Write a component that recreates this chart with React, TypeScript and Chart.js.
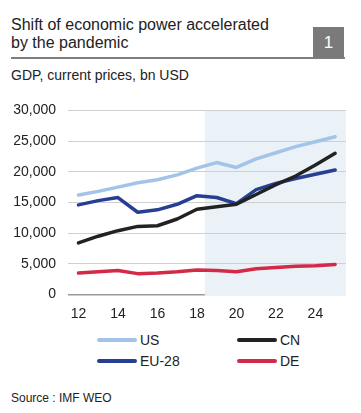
import React, { useEffect, useRef } from "react";
import { Chart, registerables } from "chart.js";

Chart.register(...registerables);

const years = [12, 13, 14, 15, 16, 17, 18, 19, 20, 21, 22, 23, 24, 25];
const xTicks = [12, 14, 16, 18, 20, 22, 24];
const yTicks = [0, 5000, 10000, 15000, 20000, 25000, 30000];
const usValues = [16200, 16800, 17500, 18200, 18700, 19500, 20600, 21500, 20700, 22100, 23100, 24100, 24900, 25700];
const cnValues = [8400, 9500, 10400, 11100, 11200, 12300, 13900, 14300, 14700, 16300, 17900, 19300, 21100, 23000];
const euValues = [14600, 15300, 15800, 13400, 13800, 14700, 16100, 15800, 14800, 17100, 18100, 18900, 19600, 20300];
const deValues = [3500, 3700, 3900, 3400, 3500, 3700, 4000, 3900, 3700, 4200, 4400, 4600, 4700, 4900];
const forecastStart = 18.4;

const seriesNames = ["US", "CN", "EU-28", "DE"];
const seriesColors = ["#a3c4e8", "#222222", "#273f92", "#d42a48"];
const seriesValues = [usValues, cnValues, euValues, deValues];

const FONT = "'Liberation Sans', Arial, sans-serif";
const SHADE = "#eaf2f8";

export default function App() {
  const ref = useRef<HTMLCanvasElement | null>(null);

  useEffect(() => {
    if (!ref.current) return;
    const shadePlugin = {
      id: "shade",
      beforeDraw(chart: any) {
        const { ctx, chartArea, scales } = chart;
        const x0 = scales.x.getPixelForValue(forecastStart);
        ctx.save();
        ctx.fillStyle = SHADE;
        ctx.fillRect(x0, chartArea.top, chartArea.right - x0, chartArea.bottom - chartArea.top + 1);
        ctx.restore();
      },
      beforeDatasetsDraw(chart: any) {
        const { ctx, chartArea, scales } = chart;
        const x0 = scales.x.getPixelForValue(forecastStart);
        const y0 = scales.y.getPixelForValue(0);
        ctx.save();
        ctx.fillStyle = SHADE;
        ctx.fillRect(x0, y0 - 1, chartArea.right - x0, 2.5);
        ctx.restore();
      },
    };
    const chart = new Chart(ref.current, {
      type: "line",
      data: {
        datasets: seriesNames.map((name, i) => ({
          label: name,
          data: years.map((yr, j) => ({ x: yr, y: seriesValues[i][j] })),
          borderColor: seriesColors[i],
          backgroundColor: seriesColors[i],
          borderWidth: 3.5,
          pointRadius: 0,
          tension: 0,
          borderCapStyle: "round",
          borderJoinStyle: "round",
        })),
      },
      options: {
        animation: false,
        responsive: false,
        maintainAspectRatio: false,
        layout: { padding: { left: 0, right: 15, top: 20, bottom: 0 } },
        plugins: { legend: { display: false }, tooltip: { enabled: false } },
        scales: {
          x: {
            type: "linear",
            min: 11.47,
            max: 25.55,
            afterBuildTicks: (axis: any) => {
              axis.ticks = xTicks.map((v) => ({ value: v }));
            },
            afterFit: (axis: any) => {
              axis.height = 35.5;
            },
            grid: { display: false, drawTicks: false },
            border: { display: false },
            ticks: {
              padding: 11,
              color: "#222",
              font: { family: FONT, size: 14 },
              maxRotation: 0,
              autoSkip: false,
              callback: (v: any) => String(v),
            },
          },
          y: {
            min: 0,
            max: 30000,
            afterBuildTicks: (axis: any) => {
              axis.ticks = yTicks.map((v) => ({ value: v }));
            },
            afterFit: (axis: any) => {
              axis.width = 68;
            },
            border: { display: false },
            grid: {
              drawTicks: false,
              color: (c: any) => (c.tick && c.tick.value === 0 ? "#9a9a9a" : "#cfcfcf"),
              lineWidth: (c: any) => (c.tick && c.tick.value === 0 ? 1.5 : 1),
            },
            ticks: {
              padding: 12,
              color: "#222",
              font: { family: FONT, size: 14 },
              callback: (v: any) => Number(v).toLocaleString("en-US"),
            },
          },
        },
      },
      plugins: [shadePlugin],
    });
    return () => chart.destroy();
  }, []);

  const abs = (s: React.CSSProperties): React.CSSProperties => ({ position: "absolute", ...s });

  return (
    <div style={{ position: "absolute", left: 0, top: 0, width: 361, height: 413, fontFamily: FONT, color: "#222" }}>
      <div style={abs({ left: 11, top: 15.5, fontSize: 16, lineHeight: "18px", whiteSpace: "nowrap" })}>
        Shift of economic power accelerated
        <br />
        by the pandemic
      </div>
      <div style={abs({ left: 11, top: 56.5, width: 334, height: 2, background: "#7f7f7f" })} />
      <div
        style={abs({
          left: 313,
          top: 27,
          width: 31,
          height: 31,
          background: "#7a7a7a",
          color: "#fff",
          fontSize: 17,
          lineHeight: "31px",
          textAlign: "center",
        })}
      >
        1
      </div>
      <div style={abs({ left: 11, top: 66.5, fontSize: 14, lineHeight: "16px", whiteSpace: "nowrap" })}>
        GDP, current prices, bn USD
      </div>
      <canvas ref={ref} width={361} height={240} style={abs({ left: 0, top: 90, width: 361, height: 240 })} />
      {seriesNames.map((name, i) => {
        const col = i % 2;
        const row = Math.floor(i / 2);
        const left = col === 0 ? 97 : 237;
        const cy = row === 0 ? 340 : 361;
        return (
          <div key={name} style={abs({ left, top: cy - 9, height: 18, display: "flex", alignItems: "center" })}>
            <div style={{ width: 40, height: 4, borderRadius: 2, background: seriesColors[i] }} />
            <span style={{ marginLeft: 3, fontSize: 14, lineHeight: "18px" }}>{name}</span>
          </div>
        );
      })}
      <div style={abs({ left: 11, top: 390.5, fontSize: 12, lineHeight: "14px", whiteSpace: "nowrap" })}>
        Source : IMF WEO
      </div>
    </div>
  );
}
